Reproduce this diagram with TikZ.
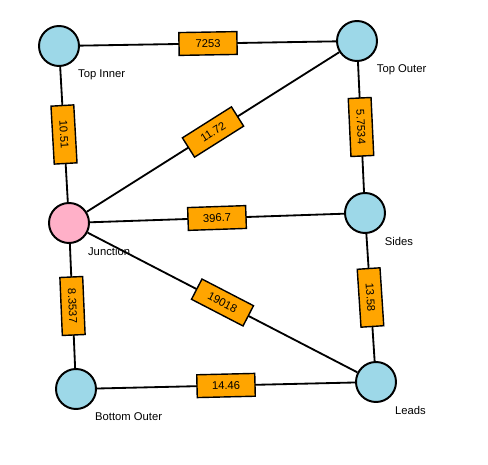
\documentclass[tikz,border=0pt]{standalone}
\usepackage{fontspec}
\setmainfont{Liberation Sans}
\usetikzlibrary{positioning}
\definecolor{busblue}{RGB}{157,216,232}
\definecolor{buspink}{RGB}{255,176,200}
\definecolor{wireorange}{RGB}{255,165,0}

\begin{document}
\begin{tikzpicture}[x=0.025cm,y=-0.025cm,
    bus/.style={circle,draw=black,line width=1.4pt,fill=busblue,minimum size=1cm,inner sep=0pt},
    wire/.style={draw=black,line width=1.3pt},
    wbox/.style={rectangle,draw=black,line width=1pt,fill=wireorange,minimum width=1.45cm,minimum height=0.57cm,inner sep=1pt,font=\fontsize{8}{9.6}\selectfont,sloped,midway},
    lbl/.style={inner sep=0pt,font=\fontsize{8}{9.6}\selectfont}]
    % Frame
    \useasboundingbox (0,0) rectangle (488,465);
    % Draw the buses
    \node[bus] (ti) at (59,46) {};
    \node[bus] (to) at (357,41) {};
    \node[bus,fill=buspink] (ju) at (69,223) {};
    \node[bus] (si) at (365,213) {};
    \node[bus] (le) at (376,382) {};
    \node[bus] (bo) at (76,389) {};
    % Names
    \node[lbl,below right=0.22cm and 0.1cm of ti] (tiname) {Top Inner};
    \node[lbl,below right=0.22cm and 0.12cm of to] (toname) {Top Outer};
    \node[lbl,below right=0.22cm and 0.1cm of ju] (juname) {Junction};
    \node[lbl,below right=0.22cm and 0.12cm of si] (siname) {Sides};
    \node[lbl,below right=0.22cm and 0.1cm of le] (lename) {Leads};
    \node[lbl,below right=0.22cm and 0.1cm of bo] (boname) {Bottom Outer};
    % Draw the wires
    \draw[wire] (ti) -- node[wbox] (w1) {7253} (to);
    \draw[wire] (ti) -- node[wbox] (w2) {10.51} (ju);
    \draw[wire] (ju) -- node[wbox] (w3) {11.72} (to);
    \draw[wire] (to) -- node[wbox] (w4) {5.7534} (si);
    \draw[wire] (ju) -- node[wbox] (w5) {396.7} (si);
    \draw[wire] (si) -- node[wbox] (w6) {13.58} (le);
    \draw[wire] (ju) -- node[wbox] (w7) {8.3537} (bo);
    \draw[wire] (ju) -- node[wbox] (w8) {19018} (le);
    \draw[wire] (bo) -- node[wbox] (w9) {14.46} (le);
\end{tikzpicture}
\end{document}
